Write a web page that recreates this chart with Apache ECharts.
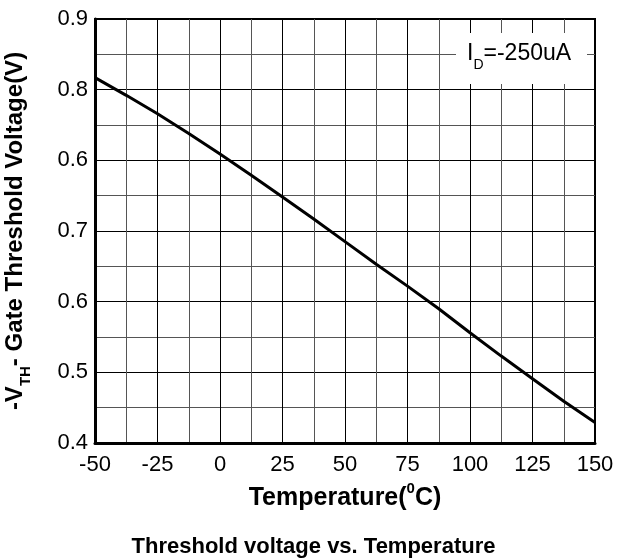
<!DOCTYPE html>
<html>
<head>
<meta charset="utf-8">
<script src="https://cdn.jsdelivr.net/npm/echarts@6/dist/echarts.min.js"></script>
<style>
html,body{margin:0;padding:0;background:#fff;}
#chart{width:627px;height:558px;}
</style>
</head>
<body>
<div id="chart"></div>
<script>
// Data
const temperatures = [-50, -37.5, -25, -12.5, 0, 12.5, 25, 37.5, 50, 62.5, 75, 87.5, 100, 112.5, 125, 137.5, 150];
const thresholdVoltage = [0.817, 0.792, 0.766, 0.738, 0.709, 0.679, 0.648, 0.617, 0.585, 0.553, 0.522, 0.490, 0.456, 0.423, 0.391, 0.359, 0.329];
const xTickLabels = ['-50', '-25', '0', '25', '50', '75', '100', '125', '150'];
const yTickLabels = ['0.4', '0.5', '0.6', '0.7', '0.6', '0.8', '0.9']; // bottom to top, as printed
const annotationText = ['I', 'D', '=-250uA'];
const chartTitle = 'Threshold voltage vs. Temperature';

const FONT = '"Liberation Sans", Arial, sans-serif';
const chart = echarts.init(document.getElementById('chart'), null, {renderer: 'canvas'});

const seriesData = temperatures.map((t, i) => [t, thresholdVoltage[i]]);

const option = {
  backgroundColor: '#fff',
  animation: false,
  title: {
    text: chartTitle,
    left: 'center',
    top: 536,
    padding: 0,
    textStyle: {fontFamily: FONT, fontWeight: 'bold', fontSize: 22, color: '#000'}
  },
  grid: {left: 95, right: 32, top: 19, bottom: 115, outerBoundsMode: 'none', containLabel: false,
         show: true, borderColor: '#000', borderWidth: 2, backgroundColor: 'transparent'},
  xAxis: {
    type: 'value', min: -50, max: 150, interval: 12.5,
    axisLine: {show: true, onZero: false, lineStyle: {color: '#000', width: 3}},
    axisTick: {show: false},
    splitLine: {show: true, lineStyle: {color: ['#000', '#555'], width: 1}},
    axisLabel: {
      fontFamily: FONT, fontSize: 22, color: '#000', margin: 11,
      formatter: function (v) {
        const k = Math.round((v + 50) / 12.5);
        return k % 2 === 0 ? xTickLabels[k / 2] : '';
      }
    },
    name: '{b|Temperature(}{sup|0}{b|C)}',
    nameLocation: 'middle',
    nameGap: 37,
    nameTextStyle: {
      rich: {
        b: {fontFamily: FONT, fontWeight: 'bold', fontSize: 25, color: '#000', lineHeight: 30, verticalAlign: 'bottom'},
        sup: {fontFamily: FONT, fontWeight: 'bold', fontSize: 15, color: '#000', lineHeight: 30, verticalAlign: 'top'}
      }
    }
  },
  yAxis: {
    type: 'value', min: 0.3, max: 0.9, interval: 0.05,
    axisLine: {show: true, onZero: false, lineStyle: {color: '#000', width: 3}},
    axisTick: {show: false},
    splitLine: {show: true, lineStyle: {color: ['#000', '#555'], width: 1}},
    axisLabel: {
      fontFamily: FONT, fontSize: 22, color: '#000', margin: 7,
      formatter: function (v) {
        const k = Math.round((v - 0.3) / 0.05);
        return k % 2 === 0 ? yTickLabels[k / 2] : '';
      }
    },
    name: '{b|-V}{sub|TH}{b|- Gate Threshold Voltage(V)}',
    nameLocation: 'middle',
    nameGap: 62,
    nameRotate: 90,
    nameTextStyle: {
      rich: {
        b: {fontFamily: FONT, fontWeight: 'bold', fontSize: 24, color: '#000', lineHeight: 30, verticalAlign: 'top'},
        sub: {fontFamily: FONT, fontWeight: 'bold', fontSize: 15, color: '#000', lineHeight: 30, verticalAlign: 'bottom'}
      }
    }
  },
  graphic: [
    {type: 'rect', left: 456, top: 33, shape: {width: 131, height: 51}, style: {fill: '#fff'}, z: 10},
    {type: 'text', left: 467, top: 42, z: 11,
     style: {
       text: '{n|' + annotationText[0] + '}{s|' + annotationText[1] + '}{n|' + annotationText[2] + '}',
       rich: {
         n: {fontFamily: FONT, fontSize: 23, fill: '#000', lineHeight: 30, verticalAlign: 'top'},
         s: {fontFamily: FONT, fontSize: 14, fill: '#000', lineHeight: 30, verticalAlign: 'bottom'}
       }
     }}
  ],
  series: [{
    type: 'line',
    data: seriesData,
    showSymbol: false,
    smooth: false,
    lineStyle: {color: '#000', width: 3},
    z: 5
  }]
};
chart.setOption(option);
</script>
</body>
</html>
